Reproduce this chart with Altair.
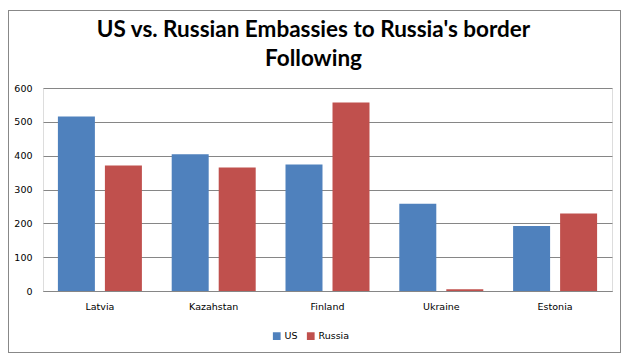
import altair as alt
import pandas as pd

countries = ["Latvia", "Kazahstan", "Finland", "Ukraine", "Estonia"]
us_values = [516, 404, 374, 258, 192]
russia_values = [371, 365, 557, 5, 229]
series = ["US", "Russia"]
colors = ["#4F81BD", "#C0504D"]
y_ticks = [0, 100, 200, 300, 400, 500, 600]

rows = []
for c, u, r in zip(countries, us_values, russia_values):
    rows.append({"country": c, "series": "US", "value": u})
    rows.append({"country": c, "series": "Russia", "value": r})
df = pd.DataFrame(rows)

W, H = 569, 203

bars = alt.Chart(df).mark_bar().encode(
    x=alt.X("country:N", sort=countries, title=None,
            scale=alt.Scale(paddingInner=0, paddingOuter=0),
            axis=alt.Axis(labelAngle=0, ticks=False, domain=True, domainColor="#868686",
                          labelPadding=10, labelFont="DejaVu Sans", labelFontSize=9.5,
                          labelColor="#000000", grid=False)),
    xOffset=alt.XOffset("series:N", sort=series,
                        scale=alt.Scale(paddingInner=0.213, paddingOuter=0.317)),
    y=alt.Y("value:Q", title=None,
            scale=alt.Scale(domain=[0, 600], nice=False),
            axis=alt.Axis(values=y_ticks, ticks=False, domain=False, gridColor="#868686",
                          gridWidth=1, labelPadding=11, labelFont="DejaVu Sans",
                          labelFontSize=9.5, labelColor="#000000")),
    color=alt.Color("series:N", sort=series,
                    scale=alt.Scale(domain=series, range=colors),
                    legend=alt.Legend(title=None, orient="none", direction="horizontal",
                                      legendX=229, legendY=243, symbolType="square",
                                      symbolSize=60, symbolStrokeWidth=0,
                                      labelFont="DejaVu Sans", labelFontSize=9.5,
                                      labelColor="#000000", columnPadding=8,
                                      labelOffset=3)),
)

frame = alt.Chart(df).mark_rect(fill=None, stroke="#888888", strokeWidth=1).encode(
    x=alt.value(-34.5), x2=alt.value(577.5), y=alt.value(-77.5), y2=alt.value(264.5)
)

chart = alt.layer(frame, bars).properties(
    width=W, height=H,
    title=alt.TitleParams(
        ["US vs. Russian Embassies to Russia's border", "Following"],
        font="Lato", fontSize=22.5, fontWeight="bold", color="#000000",
        anchor="middle", frame="group", lineHeight=29, offset=-60, dx=-14),
    autosize=alt.AutoSizeParams(type="none"),
    padding={"left": 35, "top": 80, "right": 9, "bottom": 62},
).configure_view(stroke=None).configure(background="white")

chart.save("out.html", embed_options={"renderer": "svg", "actions": False})
